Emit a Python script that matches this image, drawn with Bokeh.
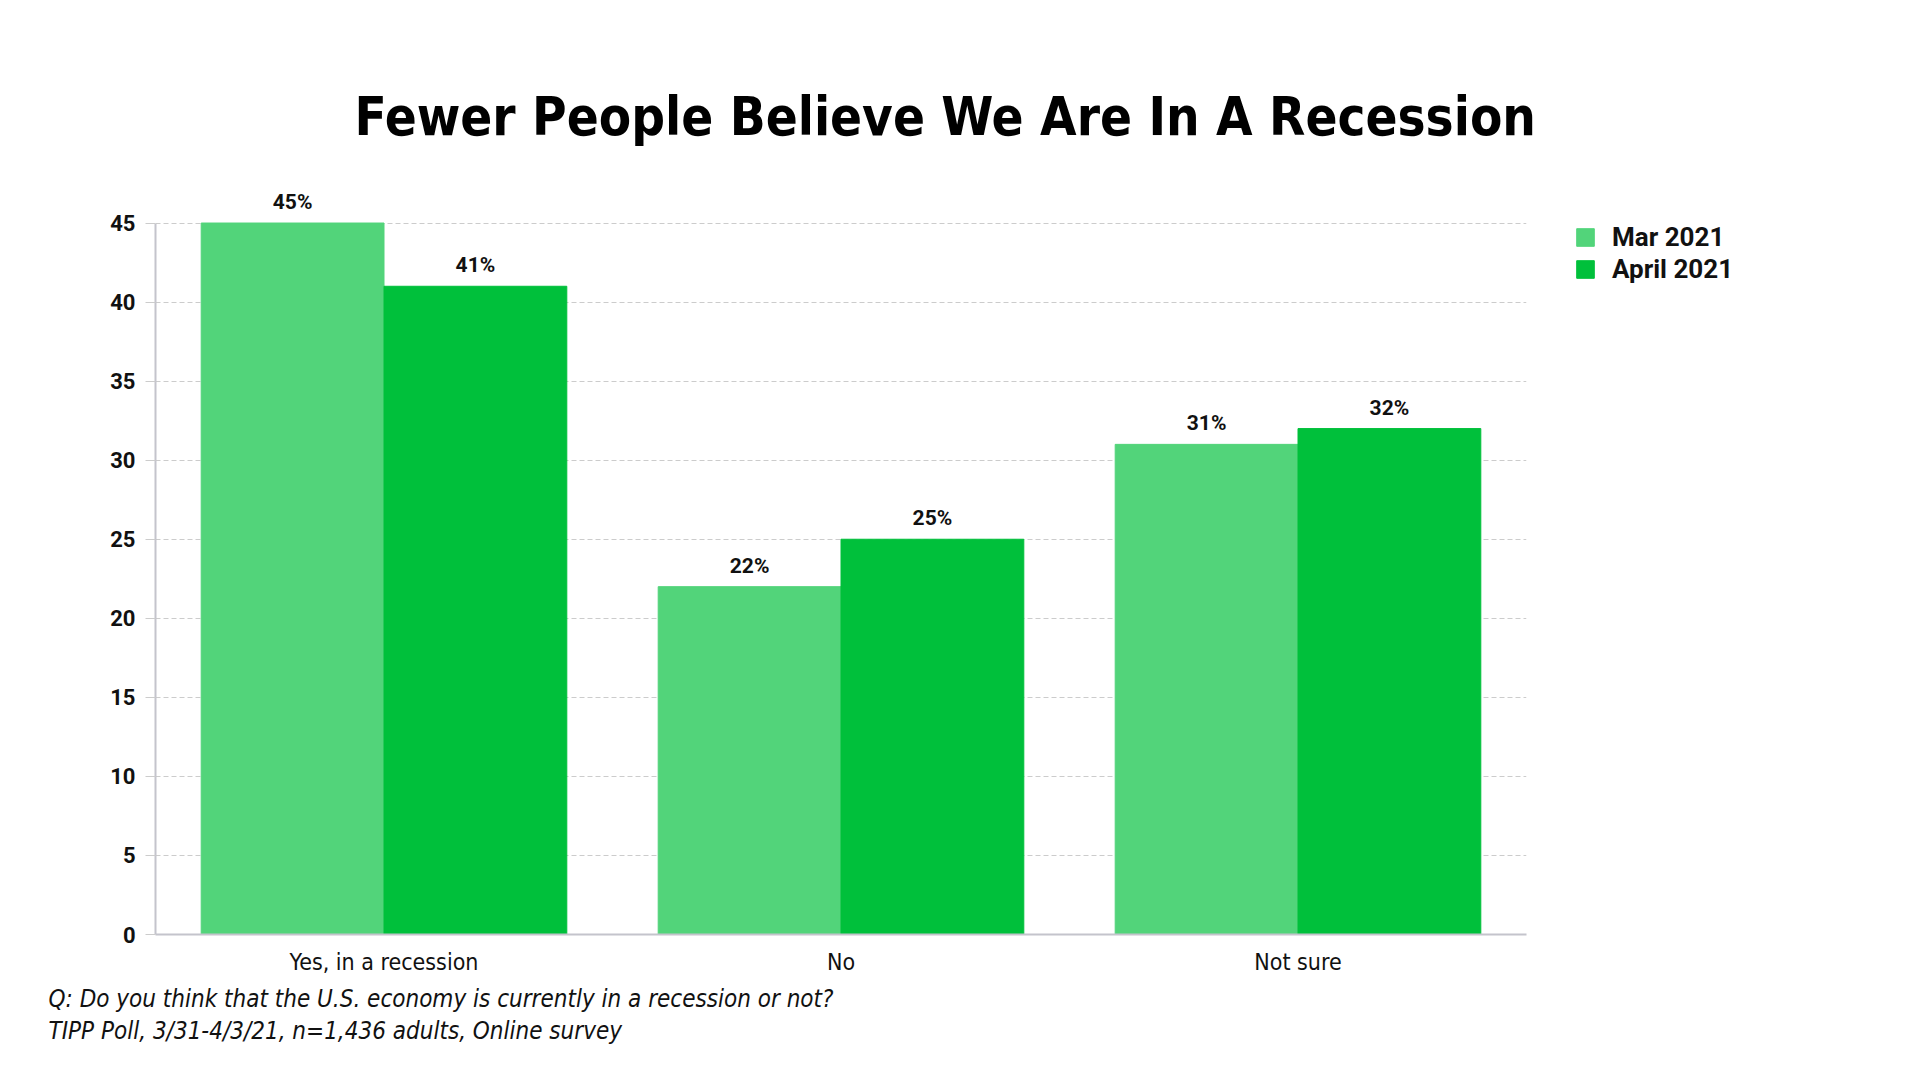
from bokeh.plotting import figure
from bokeh.models import ColumnDataSource, LabelSet, Legend, LegendItem, FactorRange, Title
from bokeh.transform import dodge
from bokeh.core.properties import value
from bokeh.embed import file_html
from bokeh.resources import INLINE

categories = ["Yes, in a recession", "No", "Not sure"]
mar_2021 = [45, 22, 31]
apr_2021 = [41, 25, 32]
series_names = ["Mar 2021", "April 2021"]
y_ticks = [0, 5, 10, 15, 20, 25, 30, 35, 40, 45]
title_text = "Fewer People Believe We Are In A Recession"
note_lines = ["Q:  Do you think that the U.S. economy is currently in a recession or not?",
              "TIPP Poll, 3/31-4/3/21, n=1,436 adults, Online survey"]

C_MAR = "#52D47A"
C_APR = "#00C03B"
COND = "'Liberation Sans Narrow', 'DejaVu Sans Condensed', 'Roboto'"
REG = "Roboto"

src = ColumnDataSource(dict(
    cat=categories, mar=mar_2021, apr=apr_2021,
    mar_lbl=[f"{v}%" for v in mar_2021], apr_lbl=[f"{v}%" for v in apr_2021]))

p = figure(frame_width=1371, frame_height=751, x_range=FactorRange(*categories, range_padding=0),
           y_range=(0, 47.5), output_backend="svg", toolbar_location=None,
           min_border_left=155, min_border_right=360, min_border_top=183, min_border_bottom=120)
p.outline_line_color = None
p.background_fill_color = "white"

r1 = p.vbar(x=dodge("cat", -0.2, range=p.x_range), top="mar", width=0.4, source=src,
            fill_color=C_MAR, line_color=C_MAR)
r2 = p.vbar(x=dodge("cat", 0.2, range=p.x_range), top="apr", width=0.4, source=src,
            fill_color=C_APR, line_color=C_APR)

for col, lbl, off in (("mar", "mar_lbl", -0.2), ("apr", "apr_lbl", 0.2)):
    ls = LabelSet(x=dodge("cat", off, range=p.x_range), y=col, text=lbl, source=src,
                  text_align="center", text_baseline="bottom", y_offset=9,
                  text_font=value(REG), text_font_style="bold", text_font_size="21px",
                  text_color="#111111")
    p.add_layout(ls)

p.xgrid.grid_line_color = None
p.ygrid.grid_line_color = "#cccccc"
p.ygrid.grid_line_dash = "5 3"
p.ygrid.grid_line_width = 1

p.yaxis.ticker = y_ticks
p.yaxis.bounds = (0, 45)
p.yaxis.axis_line_color = "#c4c4cc"
p.yaxis.axis_line_width = 2
p.yaxis.major_tick_line_color = "#cccccc"
p.yaxis.major_tick_out = 10
p.yaxis.major_tick_in = 0
p.yaxis.minor_tick_line_color = None
p.yaxis.major_label_standoff = 10
p.yaxis.major_label_text_font = REG
p.yaxis.major_label_text_font_style = "bold"
p.yaxis.major_label_text_font_size = "22px"
p.yaxis.major_label_text_color = "#111111"

p.xaxis.axis_line_color = "#c4c4cc"
p.xaxis.axis_line_width = 2
p.xaxis.major_tick_line_color = None
p.xaxis.minor_tick_line_color = None
p.xaxis.major_tick_out = 0
p.xaxis.major_label_standoff = 14
p.xaxis.major_label_text_font = COND
p.xaxis.major_label_text_font_size = "23px"
p.xaxis.major_label_text_color = "#111111"

p.title = Title(text=title_text, align="left", offset=199, vertical_align="bottom",
                standoff=74, text_font=COND, text_font_style="bold",
                text_font_size="52.5px", text_color="#000000")

p.add_layout(Title(text="\n".join(note_lines), align="left", offset=-107, vertical_align="top",
                   standoff=14, text_font=COND, text_font_style="italic",
                   text_font_size="24px", text_color="#111111", text_line_height=1.15), "below")

legend = Legend(items=[LegendItem(label=series_names[0], renderers=[r1]),
                       LegendItem(label=series_names[1], renderers=[r2])],
                location=(48, 650), orientation="vertical",
                glyph_width=22, glyph_height=22, label_height=22, spacing=2,
                label_standoff=16, padding=0, margin=0, border_line_color=None,
                background_fill_alpha=0,
                label_text_font=REG, label_text_font_style="bold", label_text_font_size="26px",
                label_text_color="#111111")
p.add_layout(legend, "right")

open("out.html", "w").write(file_html(p, INLINE))
